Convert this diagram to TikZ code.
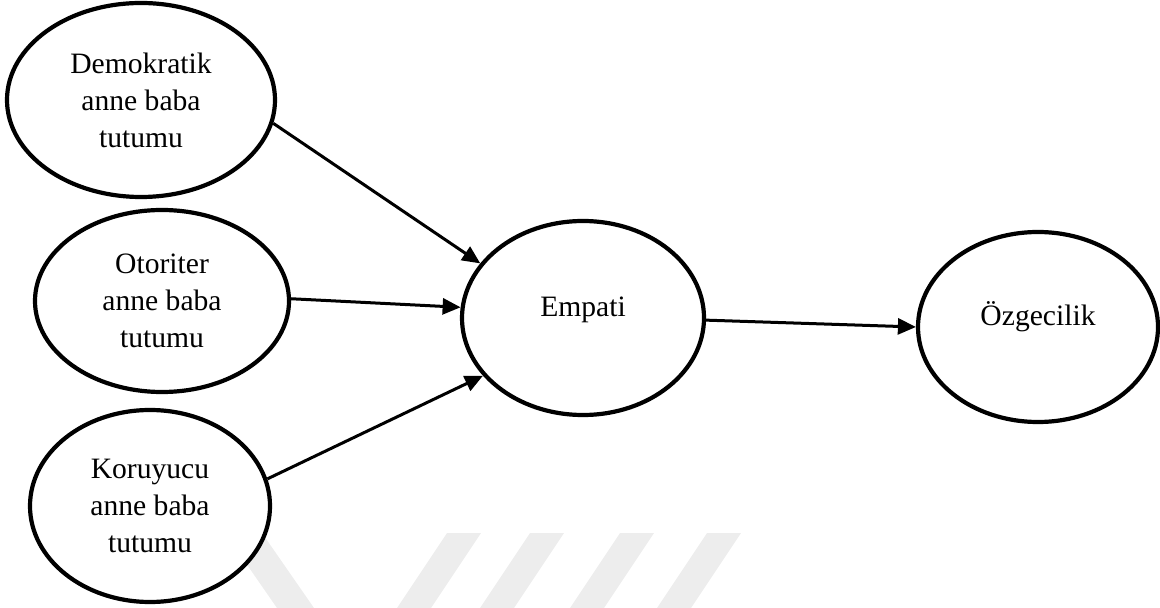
\documentclass[tikz,border=0pt]{standalone}
\usepackage{fontspec}
\setmainfont{Liberation Serif}
\usetikzlibrary{arrows.meta, shapes.geometric}
\begin{document}
\begin{tikzpicture}[x=0.5pt, y=-0.5pt,
            oval/.style={draw, ellipse, fill=white, line width=2.1pt, inner sep=0pt,
              font=\fontsize{14.8}{18.5}\selectfont, align=center},
            txt/.style={font=\fontsize{14.8}{18.5}\selectfont},
            arr/.style={-{Triangle[length=9pt, width=8pt]}, line width=1.5pt},
            stripe/.style={fill=black!7, draw=none}, ]
            \useasboundingbox (0,0) rectangle (1160,608);
            % faint background stripes
            \fill[stripe] (225,533) -- (262,533) -- (314,608) -- (277,608) -- cycle;
            \foreach \x in {447, 530, 620, 707}
              \fill[stripe] (\x,533) -- (\x+34,533) -- (\x-16,608) -- (\x-50,608) -- cycle;
            % ellipses
            \node[oval, minimum width=134pt, minimum height=97pt] (demo) at (141,100)
              {Demokratik\\anne baba\\tutumu};
            \node[oval, minimum width=127pt, minimum height=91pt] (otor) at (162,301)
              {Otoriter\\anne baba\\tutumu};
            \node[oval, minimum width=120pt, minimum height=96pt] (koru) at (150,506)
              {Koruyucu\\anne baba\\tutumu};
            \node[oval, minimum width=121pt, minimum height=97pt,
              label={[txt, yshift=4pt]center:Empati}] (empati) at (583,318) {};
            \node[oval, minimum width=120pt, minimum height=95pt,
              label={[txt, yshift=5pt]center:Özgecilik}] (ozg) at (1038,327) {};
            % arrows
            \draw[arr] (demo.-10) -- (empati.152);
            \draw[arr] (otor.1) -- (empati.175);
            \draw[arr] (koru.13) -- (empati.210);
            \draw[arr] (empati.-1) -- (ozg.180);
\end{tikzpicture}
\end{document}
